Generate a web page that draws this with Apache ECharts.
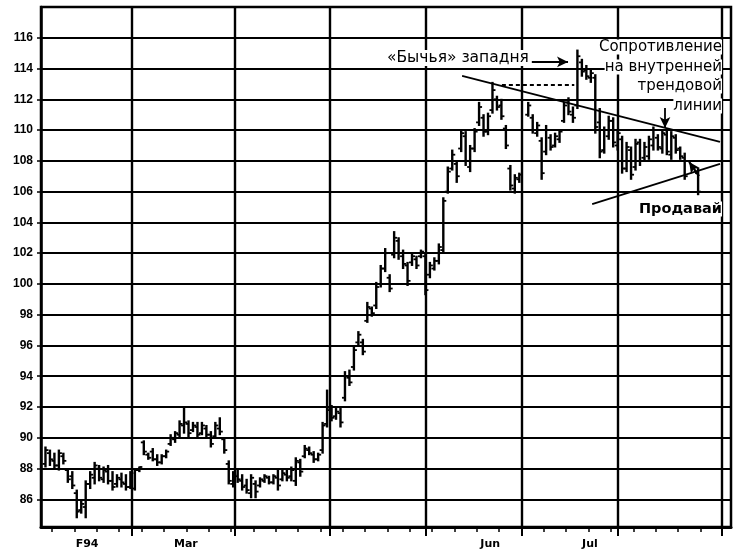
<!DOCTYPE html>
<html><head><meta charset="utf-8">
<script src="https://cdn.jsdelivr.net/npm/echarts@6/dist/echarts.min.js"></script>
<style>html,body{margin:0;padding:0;background:#fff}#c{width:742px;height:552px}</style>
</head><body><div id="c"></div>
<script>
// trading-day position of the first bar on the x axis
const dayStart = -1.5;
const high = [89.4,89.2,89.0,89.2,89.0,88.0,87.8,86.6,85.9,87.2,
87.8,88.4,88.2,88.1,88.2,87.8,87.6,87.7,87.6,87.8,
88.0,88.1,89.8,89.0,89.3,88.9,88.9,89.2,90.2,90.4,
91.1,92.0,91.1,91.0,91.0,91.0,90.8,90.4,91.0,91.3,
90.0,88.5,87.8,87.9,87.6,87.3,87.6,87.2,87.4,87.6,
87.5,87.6,87.9,87.9,88.0,88.1,88.7,88.6,89.5,89.4,
89.1,89.0,91.0,93.1,92.1,91.9,91.9,94.3,94.4,95.9,
96.9,96.4,98.8,98.5,100.1,101.2,102.3,100.6,103.4,103.0,
102.2,101.4,102.0,101.8,102.2,102.0,101.4,101.7,102.6,105.6,
107.6,108.7,108.0,110.0,109.9,109.0,110.1,111.8,111.0,111.1,
113.1,112.2,112.0,110.3,107.7,107.1,107.2,null,111.8,111.0,
110.5,109.5,110.3,109.7,109.8,110.0,111.8,112.1,111.5,115.2,
114.6,114.2,113.9,113.6,111.4,110.2,110.9,110.8,110.0,109.6,
109.2,108.9,109.4,109.4,109.2,109.6,110.2,109.7,110.0,110.0,
109.9,109.7,108.9,108.5,null,null,107.5];
const low = [88.1,88.2,88.0,87.9,88.3,87.1,86.7,84.8,85.1,84.8,
86.7,87.0,87.2,87.1,87.0,86.6,86.8,86.8,86.6,86.7,
86.6,87.8,88.9,88.6,88.5,88.2,88.3,88.7,89.5,89.7,
90.0,90.3,90.0,90.4,90.0,90.2,90.0,89.4,90.0,90.2,
89.0,87.0,86.8,87.1,86.6,86.4,86.1,86.1,86.8,87.1,
87.0,87.0,86.6,87.2,87.2,87.2,86.9,87.5,88.7,88.9,
88.4,88.5,89.0,90.7,91.1,91.2,90.7,92.4,93.4,94.4,
96.0,95.4,97.5,97.9,98.4,99.8,100.8,99.5,101.7,101.6,
101.0,99.9,101.2,101.0,101.7,99.3,100.4,100.9,101.3,102.0,
105.9,107.4,106.6,108.6,107.7,107.3,108.6,110.3,109.6,109.7,
111.1,111.3,110.7,108.8,106.1,105.9,106.6,null,110.9,109.8,
109.6,106.8,108.4,108.7,108.9,109.2,110.5,111.0,110.5,111.4,
113.5,113.3,113.1,109.8,108.2,108.5,109.4,108.9,108.7,107.2,
107.3,106.8,107.4,107.7,108.0,108.1,108.7,108.7,108.5,108.4,
108.1,108.5,108.1,106.8,null,null,105.8];
const open = [88.3,89.0,88.5,88.2,88.8,87.9,87.5,86.4,85.3,85.5,
87.0,87.4,88.0,87.3,87.8,87.2,87.0,87.3,87.0,86.8,
86.7,87.9,89.7,88.9,89.1,88.6,88.4,88.8,89.6,89.9,
90.2,90.8,90.9,90.5,90.7,90.3,90.6,90.2,90.1,90.6,
89.9,88.3,87.0,87.5,87.2,86.9,86.4,87.0,86.9,87.2,
87.4,87.1,87.4,87.3,87.6,87.5,87.2,88.4,88.8,89.2,
88.9,88.6,89.2,90.9,91.9,91.4,91.6,92.6,93.9,94.6,
96.2,96.2,97.6,98.4,98.6,100.0,101.0,100.4,101.9,102.8,
101.8,101.2,101.4,101.6,101.8,101.8,100.6,101.0,101.5,102.2,
106.0,107.5,107.8,108.8,109.6,107.6,108.8,110.5,110.8,109.9,
111.3,112.0,111.6,110.1,107.5,106.2,106.8,null,111.0,110.8,
109.8,109.3,108.6,109.5,109.0,109.4,110.6,111.8,111.0,111.6,
114.4,113.9,113.4,113.4,110.5,108.7,109.6,110.6,109.0,109.4,
107.5,108.7,107.6,109.2,108.2,108.3,109.0,109.5,108.8,109.7,
108.4,109.5,108.8,108.2,null,null,107.2];
const close = [89.2,88.6,88.2,89.0,88.5,87.3,86.9,85.2,85.7,87.0,
87.6,88.2,87.4,87.9,87.2,86.8,87.4,87.1,86.8,87.7,
87.9,88.1,89.1,88.7,88.6,88.4,88.8,89.1,90.0,90.3,
90.9,91.0,90.3,90.8,90.2,90.8,90.2,89.6,90.8,90.4,
89.2,87.2,87.6,87.3,86.8,86.6,87.4,86.5,87.3,87.5,
87.1,87.5,86.9,87.7,87.4,87.9,88.5,87.8,89.3,89.0,
88.6,88.9,90.8,91.8,91.3,91.7,91.0,94.0,93.6,95.7,
96.7,95.6,98.5,98.1,99.8,101.0,102.0,99.7,103.0,102.0,
101.3,100.2,101.8,101.2,102.1,99.6,101.2,101.5,102.4,105.4,
107.3,108.4,107.0,109.8,108.0,108.8,109.9,111.5,109.9,110.9,
112.6,111.5,110.9,109.0,106.4,106.9,107.1,null,111.6,110.0,
110.3,107.2,110.0,108.9,109.6,109.9,111.6,111.2,110.8,114.8,
113.8,113.5,113.7,110.2,108.6,110.0,110.6,109.2,109.8,107.5,
108.9,107.1,109.1,108.0,108.9,109.4,110.0,108.9,109.8,108.6,
109.6,108.7,108.3,107.0,null,null,106.0];

const weekTicks = [0,5,10,15,20,25,30,35,40,45,50,55,60,65,70,75,80,85,90,95,100,105,110,115,120,125,130,135,140,145];
const monthLines = [17.86,40.9,62.15,83.63,105.1,126.6,149.85];
const monthLabelPos = [7.8,29.9,98.0,120.3];
const monthLabelText = ['F94','Mar','Jun','Jul'];

const trapText = '«Бычья» западня';
const resistText = ['Сопротивление','на внутренней','трендовой','линии'];
const sellText = 'Продавай';

// annotation lines in data coordinates [day, price]
const upperTrend = [[91.7,113.52],[149.4,109.23]];
const lowerTrend = [[120.8,105.19],[149.4,107.8]];
const trapLevel = [[100.6,112.93],[116.8,112.93]];
const trapArrow = [[107.3,114.43],[115.4,114.43]];
const resistArrow = [[137.1,111.44],[137.1,110.14]];
const sellArrow = [[144.7,107.0],[142.5,107.93]];

const data = [];
for (let i = 0; i < high.length; i++) {
  if (high[i] == null) continue;
  data.push([i + dayStart, open[i], high[i], low[i], close[i]]);
}

function renderItem(params, api) {
  const x = api.value(0);
  const po = api.coord([x, api.value(1)]);
  const ph = api.coord([x, api.value(2)]);
  const pl = api.coord([x, api.value(3)]);
  const pc = api.coord([x, api.value(4)]);
  const w = 3;
  const st = {stroke:'#000', lineWidth:2.4};
  const tk = {stroke:'#000', lineWidth:1.8};
  return {type:'group', children:[
    {type:'line', shape:{x1:ph[0],y1:ph[1]-0.5,x2:pl[0],y2:pl[1]+0.5}, style:st},
    {type:'line', shape:{x1:po[0]-w,y1:po[1],x2:po[0],y2:po[1]}, style:tk},
    {type:'line', shape:{x1:pc[0],y1:pc[1],x2:pc[0]+w,y2:pc[1]}, style:tk}
  ]};
}

function seg(a, style, arrow) {
  return [
    {coord:a[0], symbol:'none', lineStyle:style},
    {coord:a[1], symbol: arrow ? 'arrow' : 'none', symbolSize: arrow ? [8,11] : 0, lineStyle:style}
  ];
}
const solid = {color:'#000', width:1.8, type:'solid'};

const chart = echarts.init(document.getElementById('c'), null, {renderer:'canvas'});
chart.setOption({
  animation:false,
  backgroundColor:'#fff',
  grid:{left:41, right:11, top:7, bottom:25, show:true, borderColor:'#000', borderWidth:2.5, backgroundColor:'transparent'},
  xAxis:[{
    type:'value', min:-2.5, max:151.86,
    axisLine:{show:true, onZero:false, lineStyle:{color:'#000', width:3}},
    axisTick:{show:true, customValues:weekTicks, length:5, lineStyle:{color:'#000', width:1.5}},
    axisLabel:{show:true, customValues:monthLabelPos, margin:12,
      formatter:(v)=>{ const k = monthLabelPos.indexOf(v); return k>=0 ? monthLabelText[k] : ''; },
      color:'#000', fontSize:11, fontWeight:'bold', fontFamily:'DejaVu Sans'},
    splitLine:{show:false}
  },{
    type:'value', min:-2.5, max:151.86, position:'top', offset:-520,
    axisLine:{show:false},
    axisTick:{show:true, inside:true, customValues:monthLines, length:9, lineStyle:{color:'#000', width:2}},
    axisLabel:{show:false},
    splitLine:{show:false}
  }],
  yAxis:{
    type:'value', min:84.2, max:118, minInterval:2, maxInterval:2, splitNumber:17,
    axisLine:{show:true, onZero:false, lineStyle:{color:'#000', width:2.5}},
    axisTick:{show:true, length:4, lineStyle:{color:'#000', width:1.5}},
    axisLabel:{showMinLabel:false, showMaxLabel:false, color:'#000', fontSize:12, fontWeight:'bold', fontFamily:'Liberation Sans', margin:8},
    splitLine:{show:true, lineStyle:{color:'#000', width:2.2}}
  },
  series:[{
    type:'custom', xAxisIndex:0, yAxisIndex:0, renderItem:renderItem, data:data, clip:true, z:5,
    markLine:{
      silent:true, animation:false, symbol:'none', label:{show:false}, z:3,
      data: monthLines.map(v=>({xAxis:v, lineStyle:{color:'#000', width:2.4, type:'solid'}, symbol:'none'}))
    }
  },{
    type:'custom', xAxisIndex:0, yAxisIndex:0, renderItem:()=>null, data:[], z:6,
    markLine:{
      silent:true, animation:false, label:{show:false}, z:6,
      data:[
        seg(upperTrend, solid, false),
        seg(lowerTrend, solid, false),
        seg(trapLevel, {color:'#000', width:1.8, type:[4,3]}, false),
        seg(trapArrow, solid, true),
        seg(resistArrow, solid, true),
        seg(sellArrow, {color:'#000', width:2.2, type:'solid'}, true)
      ]
    }
  }],
  graphic:[
    {type:'text', z:100, style:{text:trapText, x:387, y:58, textAlign:'left', textVerticalAlign:'middle', font:'15.5px "DejaVu Sans"', fill:'#000', backgroundColor:'#fff'}},
    {type:'text', z:100, style:{text:resistText[0], x:722, y:47, textAlign:'right', textVerticalAlign:'middle', font:'15px "DejaVu Sans"', fill:'#000', backgroundColor:'#fff'}},
    {type:'text', z:100, style:{text:resistText[1], x:722, y:67, textAlign:'right', textVerticalAlign:'middle', font:'15px "DejaVu Sans"', fill:'#000', backgroundColor:'#fff'}},
    {type:'text', z:100, style:{text:resistText[2], x:722, y:86, textAlign:'right', textVerticalAlign:'middle', font:'15px "DejaVu Sans"', fill:'#000', backgroundColor:'#fff'}},
    {type:'text', z:100, style:{text:resistText[3], x:722, y:106, textAlign:'right', textVerticalAlign:'middle', font:'15px "DejaVu Sans"', fill:'#000', backgroundColor:'#fff'}},
    {type:'text', z:100, style:{text:sellText, x:722, y:209, textAlign:'right', textVerticalAlign:'middle', font:'bold 14.5px "DejaVu Sans"', fill:'#000', backgroundColor:'#fff'}}
  ]
});
</script></body></html>
